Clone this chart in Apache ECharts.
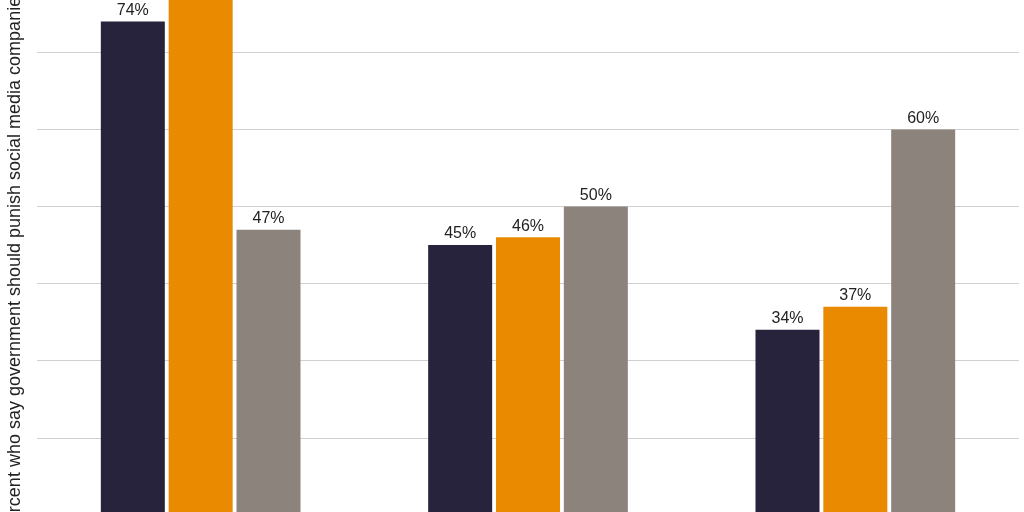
<!DOCTYPE html>
<html><head><meta charset="utf-8">
<script src="https://cdn.jsdelivr.net/npm/echarts@6/dist/echarts.min.js"></script>
<style>html,body{margin:0;padding:0;background:#fff;overflow:hidden;width:1024px;height:512px}#c{position:absolute;left:0;top:-179px;width:1030px;height:850px}</style>
</head><body><div id="c"></div>
<script>
const categories = ['Group A', 'Group B', 'Group C'];
const seriesNames = ['Series 1', 'Series 2', 'Series 3'];
const series1 = [74, 45, 34];
const series2 = [85, 46, 37];
const series3 = [47, 50, 60];
const colors = ['#28233d', '#ea8a00', '#8c847c'];
const yTitle = 'Percent who say government should punish social media companies';

const chart = echarts.init(document.getElementById('c'));
const lab = {show: true, position: 'top', formatter: '{c}%', fontFamily: 'Liberation Sans', fontSize: 16, color: '#222', distance: 3};
chart.setOption({
  animation: false,
  grid: {left: 37, right: 11, top: 0, bottom: 79},
  xAxis: {type: 'category', data: categories, axisLine: {show: false}, axisTick: {show: false}, axisLabel: {show: false}},
  yAxis: {type: 'value', min: 0, max: 100, interval: 10, axisLabel: {show: false},
    splitLine: {lineStyle: {color: '#d0d0d0', width: 1}}},
  graphic: [{type: 'text', x: 15, y: 440, rotation: Math.PI / 2,
    style: {text: yTitle, fill: '#222', font: '18px Liberation Sans', align: 'center', verticalAlign: 'middle'}}],
  series: [series1, series2, series3].map((d, i) => ({
    type: 'bar', name: seriesNames[i], data: d, barWidth: 64, barGap: '6%',
    itemStyle: {color: colors[i]}, label: lab
  }))
});
</script></body></html>
